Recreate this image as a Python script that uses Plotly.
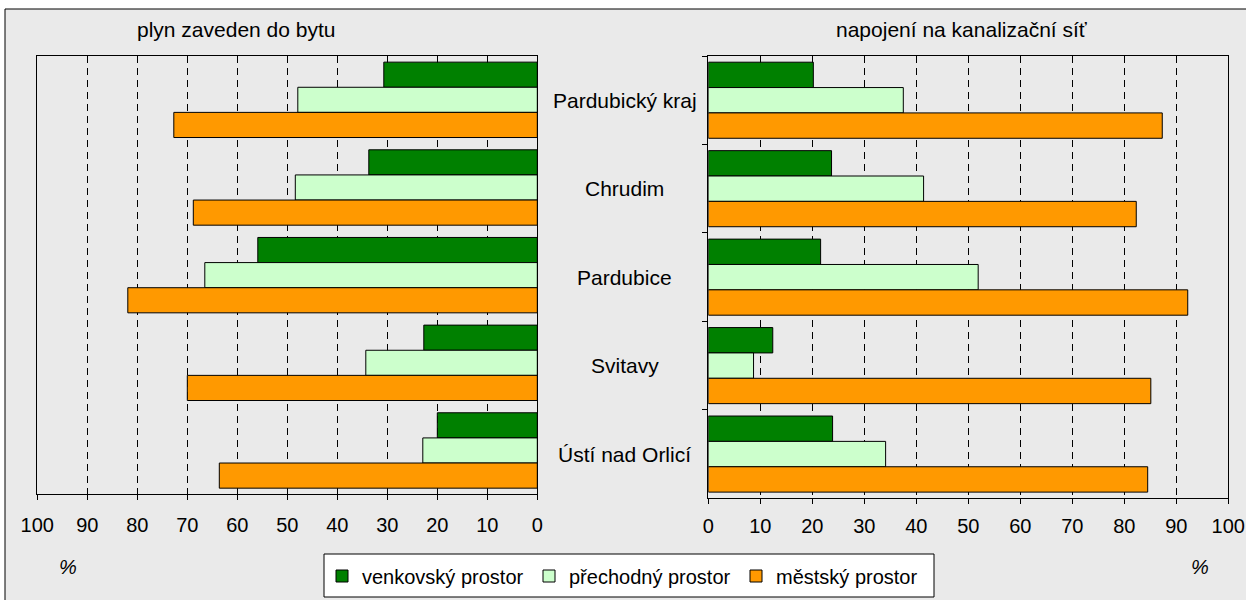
import plotly.graph_objects as go

categories = ["Pardubický kraj", "Chrudim", "Pardubice", "Svitavy", "Ústí nad Orlicí"]
series_names = ["venkovský prostor", "přechodný prostor", "městský prostor"]

# plyn zaveden do bytu (%)
gas_rural = [30.7, 33.7, 55.9, 22.7, 20.0]
gas_transition = [47.9, 48.4, 66.5, 34.3, 22.9]
gas_urban = [72.7, 68.8, 81.9, 70.0, 63.6]

# napojení na kanalizační síť (%)
sewer_rural = [20.2, 23.7, 21.6, 12.4, 23.9]
sewer_transition = [37.5, 41.4, 51.9, 8.7, 34.1]
sewer_urban = [87.3, 82.3, 92.2, 85.1, 84.5]

x_ticks = [0, 10, 20, 30, 40, 50, 60, 70, 80, 90, 100]
left_title = "plyn zaveden do bytu"
right_title = "napojení na kanalizační síť"
unit_label = "%"

colors = ["#008000", "#CCFFCC", "#FF9900"]
FONT = "Liberation Sans, Arial, sans-serif"
W, H = 1246, 600


def fx(px):
    return px / W


def fy(py):
    return 1 - py / H


fig = go.Figure()

left_series = [gas_rural, gas_transition, gas_urban]
right_series = [sewer_rural, sewer_transition, sewer_urban]

for i, name in enumerate(series_names):
    fig.add_trace(go.Bar(
        y=categories, x=left_series[i], orientation="h", name=name,
        marker=dict(color=colors[i], line=dict(color="#000000", width=1)),
        xaxis="x", yaxis="y", legendgroup=name, showlegend=True,
        hoverinfo="x+y+name",
    ))
for i, name in enumerate(series_names):
    fig.add_trace(go.Bar(
        y=categories, x=right_series[i], orientation="h", name=name,
        marker=dict(color=colors[i], line=dict(color="#000000", width=1)),
        xaxis="x2", yaxis="y2", legendgroup=name, showlegend=False,
        hoverinfo="x+y+name",
    ))

xcommon = dict(
    tickvals=x_ticks, ticks="outside", ticklen=5, tickcolor="#000000",
    showline=True, mirror=True, linecolor="#000000", linewidth=1,
    showgrid=True, gridcolor="#000000", gridwidth=1, griddash="7px,5px",
    zeroline=False, tickfont=dict(size=20, family=FONT, color="#000000"),
    fixedrange=True, automargin=False,
)

fig.update_layout(
    width=W, height=H, autosize=False,
    margin=dict(l=0, r=0, t=0, b=0, pad=0, autoexpand=False),
    paper_bgcolor="#FFFFFF", plot_bgcolor="#FFFFFF",
    font=dict(family=FONT, size=20, color="#000000"),
    barmode="group", bargap=0.14, bargroupgap=0,
    xaxis=dict(domain=[fx(37.3), fx(537.3)], range=[100, 0], anchor="y",
               ticklabelstandoff=8, **xcommon),
    yaxis=dict(domain=[fy(494.3), fy(56)], autorange="reversed", type="category",
               showticklabels=False, ticks="", showline=True, mirror=True,
               linecolor="#000000", linewidth=1, showgrid=False, anchor="x",
               fixedrange=True, automargin=False),
    xaxis2=dict(domain=[fx(708.3), fx(1228.3)], range=[0, 100], anchor="y2",
                ticklabelstandoff=5, **xcommon),
    yaxis2=dict(domain=[fy(498.3), fy(56)], autorange="reversed", type="category",
                showticklabels=False, ticks="outside", ticklen=5, tickcolor="#000000",
                tickson="boundaries", showline=True, mirror=True,
                linecolor="#000000", linewidth=1, showgrid=False, anchor="x2",
                fixedrange=True, automargin=False),
    legend=dict(orientation="h", x=fx(322), xanchor="left", y=fy(576), yanchor="middle",
                bgcolor="rgba(0,0,0,0)", borderwidth=0,
                font=dict(size=20, family=FONT, color="#000000"),
                entrywidth=162, entrywidthmode="pixels", itemwidth=30,
                traceorder="normal"),
    showlegend=True,
    shapes=[
        dict(type="rect", xref="paper", yref="paper", layer="below",
             x0=fx(5), x1=fx(1252), y0=fy(9), y1=fy(606),
             fillcolor="#EAEAEA", line=dict(color="#000000", width=1)),
        dict(type="rect", xref="paper", yref="paper", layer="below",
             x0=fx(324), x1=fx(934), y0=fy(554), y1=fy(597),
             fillcolor="#FFFFFF", line=dict(color="#000000", width=1)),
    ],
)

annotations = [
    dict(text=left_title, x=fx(236), y=fy(29), xref="paper", yref="paper",
         showarrow=False, xanchor="center", yanchor="middle", font=dict(size=21)),
    dict(text=right_title, x=fx(962), y=fy(29), xref="paper", yref="paper",
         showarrow=False, xanchor="center", yanchor="middle", font=dict(size=21)),
    dict(text="<i>" + unit_label + "</i>", x=fx(68), y=fy(567), xref="paper", yref="paper",
         showarrow=False, xanchor="center", yanchor="middle", font=dict(size=20)),
    dict(text="<i>" + unit_label + "</i>", x=fx(1200), y=fy(567), xref="paper", yref="paper",
         showarrow=False, xanchor="center", yanchor="middle", font=dict(size=20)),
]
for c in categories:
    annotations.append(dict(text=c, x=fx(624.7), y=c, xref="paper", yref="y2",
                            showarrow=False, xanchor="center", yanchor="middle",
                            font=dict(size=21)))
fig.update_layout(annotations=annotations)

fig.write_html("out.html", config={"displayModeBar": False},
               post_script="document.body.style.margin='0';document.body.style.overflow='hidden';")
